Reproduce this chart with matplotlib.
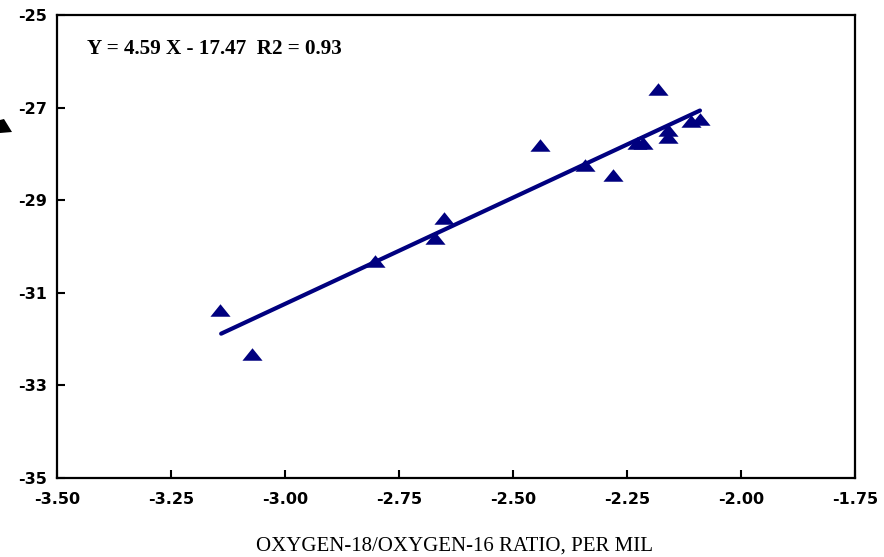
import matplotlib
matplotlib.use("Agg")
import matplotlib.pyplot as plt
from matplotlib.patches import Polygon
import numpy as np

plt.rcParams["axes.unicode_minus"] = False

# Data
x_vals = [-3.143, -3.072, -2.803, -2.671, -2.651, -2.441, -2.342, -2.281,
          -2.182, -2.228, -2.214, -2.160, -2.160, -2.110, -2.090]
y_vals = [-31.37, -32.32, -30.31, -29.82, -29.38, -27.81, -28.24, -28.46,
          -26.60, -27.76, -27.76, -27.48, -27.63, -27.30, -27.24]
slope = 4.59
intercept = -17.47
fit_x = [-3.14, -2.09]
x_ticks = [-3.50, -3.25, -3.00, -2.75, -2.50, -2.25, -2.00, -1.75]
y_ticks = [-35, -33, -31, -29, -27, -25]
equation = "Y = 4.59 X - 17.47  R2 = 0.93"
xlabel = "OXYGEN-18/OXYGEN-16 RATIO, PER MIL"

W, H = 884, 557
fig = plt.figure(figsize=(W / 100, H / 100), dpi=100)
ax = fig.add_axes([57 / W, (H - 478) / H, (855 - 57) / W, (478 - 15) / H])

navy = "#00007f"
fx = np.array(fit_x)
ax.plot(fx, slope * fx + intercept, color=navy, lw=3.0, solid_capstyle="round", zorder=2)

tri = [(-1, -0.62), (1, -0.62), (0, 0.62)]
ax.plot(x_vals, y_vals, linestyle="none", marker=tri, markersize=14.5,
        color=navy, markeredgewidth=0, zorder=3)

ax.set_xlim(-3.5, -1.75)
ax.set_ylim(-35, -25)
ax.set_xticks(x_ticks)
ax.set_xticklabels([f"{v:.2f}" for v in x_ticks])
ax.set_yticks(y_ticks)
ax.set_yticklabels([str(v) for v in y_ticks])

for s in ax.spines.values():
    s.set_linewidth(1.6)
ax.tick_params(direction="in", length=6, width=1.5, labelsize=11.5)
ax.tick_params(axis="x", pad=10)
ax.tick_params(axis="y", pad=7)
for lbl in ax.get_xticklabels() + ax.get_yticklabels():
    lbl.set_family("DejaVu Sans")
    lbl.set_fontweight("bold")
for lbl in ax.get_yticklabels():
    lbl.set_va("center_baseline")

ax.text(87 / W, 1 - 49 / H, equation, transform=fig.transFigure,
        fontfamily="Liberation Serif", fontweight="bold", fontsize=15.2,
        ha="left", va="center")

fig.text(455 / W, 1 - 546 / H, xlabel, fontfamily="Liberation Serif",
         fontsize=15, ha="center", va="center")

# partial black arrowhead at left edge
arrow = Polygon([(0 / W, 1 - 120 / H), (4 / W, 1 - 119 / H), (12 / W, 1 - 132 / H),
                 (0 / W, 1 - 133 / H)], closed=True, transform=fig.transFigure,
                facecolor="black", edgecolor="none")
fig.patches.append(arrow)

fig.savefig("out.png", dpi=100)
